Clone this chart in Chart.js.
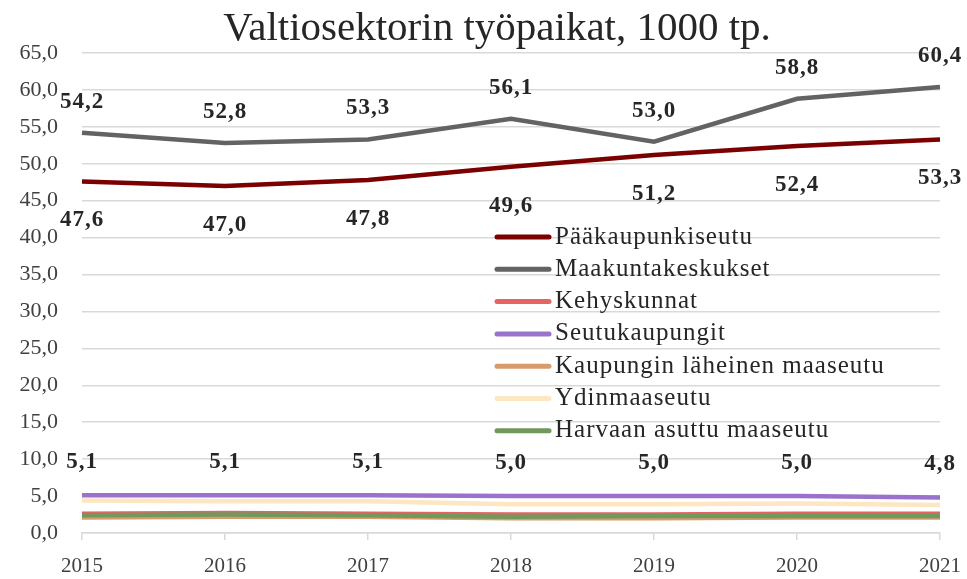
<!DOCTYPE html>
<html>
<head>
<meta charset="utf-8">
<script src="https://cdn.jsdelivr.net/npm/chart.js@4"></script>
<style>
html,body{margin:0;padding:0;background:#fff}
#kaavio{display:block}
</style>
</head>
<body>
<canvas id="kaavio" width="967" height="579"></canvas>
<script>

// data
const vuodet=["2015","2016","2017","2018","2019","2020","2021"]
const sarjat=["Pääkaupunkiseutu","Maakuntakeskukset","Kehyskunnat","Seutukaupungit","Kaupungin läheinen maaseutu","Ydinmaaseutu","Harvaan asuttu maaseutu"]
const paakaupunkiseutu=[47.6,47.0,47.8,49.6,51.2,52.4,53.3]
const maakuntakeskukset=[54.2,52.8,53.3,56.1,53.0,58.8,60.4]
const kehyskunnat=[2.6,2.7,2.6,2.5,2.5,2.6,2.6]
const seutukaupungit=[5.1,5.1,5.1,5.0,5.0,5.0,4.8]
const laheinenMaaseutu=[2.1,2.2,2.2,2.0,2.0,2.1,2.1]
const ydinmaaseutu=[4.4,4.3,4.3,3.9,3.9,4.0,3.8]
const harvaanAsuttu=[2.4,2.5,2.4,2.2,2.3,2.3,2.3]
const yTikit=[0,5,10,15,20,25,30,35,40,45,50,55,60,65]
const otsikko="Valtiosektorin työpaikat, 1000 tp."

const varit=["#7b0000","#636363","#e46464","#9b72cb","#d99a6c","#fde6c2","#70995b"]
const arvot=[paakaupunkiseutu,maakuntakeskukset,kehyskunnat,seutukaupungit,laheinenMaaseutu,ydinmaaseutu,harvaanAsuttu]

// label offsets: below for first, above for the other two labelled
const tunnisteet={0:39,1:-31,3:-33}

const fontti="'Liberation Serif', serif"

const pilkku=v=>v.toFixed(1).replace(".",",")

const datasets=sarjat.map((nimi,i)=>({
label:nimi,
data:arvot[i],
borderColor:varit[i],
backgroundColor:varit[i],
borderWidth:4.5,
pointRadius:0,
tension:0,
fill:false,
order:6-i
}))

// title, drawn by hand so it can sit off-centre like the original
const otsikkoPlugin={
id:"otsikko",
afterDraw(chart){
const ctx=chart.ctx
ctx.save()
ctx.font="41px "+fontti
ctx.fillStyle="#262626"
ctx.textAlign="center"
ctx.textBaseline="alphabetic"
ctx.fillText(otsikko,497,40)
ctx.restore()
}
}

// value labels
const arvoTunnisteet={
id:"arvoTunnisteet",
afterDatasetsDraw(chart){
const ctx=chart.ctx
ctx.save()
ctx.font="bold 23px "+fontti
ctx.letterSpacing="1px"
ctx.fillStyle="#262626"
ctx.textAlign="center"
ctx.textBaseline="middle"
Object.keys(tunnisteet).forEach(k=>{
const meta=chart.getDatasetMeta(Number(k))
meta.data.forEach((p,j)=>{
ctx.fillText(pilkku(arvot[k][j]),p.x,p.y+tunnisteet[k])
})
})
ctx.restore()
}
}

// legend inside the plot
const selite={
id:"selite",
afterDatasetsDraw(chart){
const ctx=chart.ctx
ctx.save()
ctx.font="25px "+fontti
ctx.letterSpacing="1px"
ctx.textBaseline="middle"
ctx.textAlign="left"
ctx.lineCap="round"
sarjat.forEach((nimi,i)=>{
const y=237+i*32.3
ctx.strokeStyle=varit[i]
ctx.lineWidth=5
ctx.beginPath()
ctx.moveTo(497,y)
ctx.lineTo(549,y)
ctx.stroke()
ctx.fillStyle="#262626"
ctx.fillText(nimi,555,y)
})
ctx.restore()
}
}

new Chart(document.getElementById("kaavio"),{
type:"line",
data:{labels:vuodet,datasets:datasets},
options:{
responsive:false,
animation:false,
devicePixelRatio:1,
layout:{padding:{left:0,right:27,top:53,bottom:0}},
plugins:{
legend:{display:false},
tooltip:{enabled:false},
title:{display:false}
},
scales:{
x:{
offset:false,
grid:{color:"#d9d9d9",lineWidth:1.5,drawOnChartArea:false,tickLength:7},
border:{color:"#d9d9d9",width:1.5},
ticks:{color:"#404040",font:{family:fontti,size:21},padding:14,maxRotation:0},
afterFit(s){s.height=46;s.paddingLeft=0;s.paddingRight=0}
},
y:{
min:0,
max:65,
afterBuildTicks(s){s.ticks=yTikit.map(v=>({value:v}))},
grid:{color:"#d9d9d9",lineWidth:1.5,drawTicks:false},
border:{display:false},
ticks:{color:"#404040",font:{family:fontti,size:22},padding:24,callback:v=>pilkku(v)},
afterFit(s){s.width=82;s.paddingTop=0;s.paddingBottom=0}
}
}
},
plugins:[otsikkoPlugin,arvoTunnisteet,selite]
})

</script>
</body>
</html>
